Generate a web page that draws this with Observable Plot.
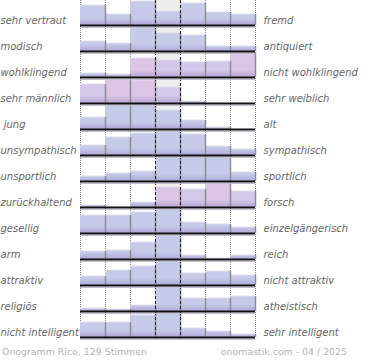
<!DOCTYPE html>
<html><head><meta charset="utf-8">
<script src="https://cdn.jsdelivr.net/npm/d3@7"></script>
<script src="https://cdn.jsdelivr.net/npm/@observablehq/plot@0.6"></script>
<style>
body{margin:0;background:#fff;width:370px;height:360px;position:relative;overflow:hidden}
svg text{white-space:pre}
#foot{position:absolute;top:346px;left:2px;width:345px;display:flex;justify-content:space-between;font:9.4px "DejaVu Sans";color:#b4b4b4;line-height:12px}
</style></head><body><div id="chart"></div>
<div id="foot"><span>Onogramm Rico, 129 Stimmen</span><span>onomastik.com - 04 / 2025</span></div>
<script>
const leftLabels = ["sehr vertraut","modisch","wohlklingend","sehr männlich"," jung","unsympathisch","unsportlich","zurückhaltend","gesellig","arm","attraktiv","religiös","nicht intelligent"];
const rightLabels = ["fremd","antiquiert","nicht wohlklingend","sehr weiblich","alt","sympathisch","sportlich","forsch","einzelgängerisch","reich","nicht attraktiv","atheistisch","sehr intelligent"];
// estimated vote shares per scale step (7 steps), relative to each row
const votes = [
  [20,11,24,14,22,13,11],
  [10, 8,25,18,16, 5, 5],
  [ 4, 3,19,17,15,16,25],
  [19,24,23,16, 2, 0, 0],
  [12,25,25,19, 9, 2, 0],
  [10,18,22,24,21, 9, 6],
  [ 5, 8,10,25,25,25, 9],
  [ 2, 0, 5,20,18,24,16],
  [18,18,21,25,11, 9, 6],
  [ 8, 9,17,24, 4, 1, 4],
  [ 9,15,19,25,12,14,10],
  [ 3, 2, 6,25,13,13,15],
  [15,15,22,25, 9, 6, 3]
];
// estimated share of female voters per bar (0 low, 1 mixed, 2 high)
const tones = [
  [0,0,0,0,0,0,0],
  [0,0,0,0,0,0,0],
  [0,0,2,1,1,1,2],
  [1,2,2,1,0,0,0],
  [0,0,0,0,0,0,0],
  [0,0,0,0,0,0,0],
  [0,0,0,0,0,0,0],
  [0,0,0,2,1,2,1],
  [0,0,0,0,0,0,0],
  [0,0,0,0,0,0,0],
  [0,0,0,0,0,0,0],
  [0,0,0,0,0,0,0],
  [0,0,0,0,0,0,0]
];

const rows = leftLabels.map((l,i)=>({row:i,left:l,right:rightLabels[i]}));
const bars = votes.flatMap((vals,r)=>vals.map((v,c)=>({row:r,col:c,v,tone:tones[r][c]}))).filter(d=>d.v>0);
const nCols = votes[0].length;
const mid = Math.floor(nCols/2);
const edges = d3.range(nCols+1);
const dotted = edges.filter(e => e!==mid && e!==mid+1);
const dashed = [mid, mid+1];

const plot = Plot.plot({
  width:370, height:342, marginLeft:80, marginRight:115, marginTop:0, marginBottom:4,
  x:{domain:[0,nCols], axis:null},
  y:{domain:[-1,25], axis:null},
  fy:{domain:d3.range(votes.length), padding:0, axis:null},
  color:{type:"ordinal", domain:[0,1,2], range:["#c6cbea","#d2c8e8","#dcc4e4"]},
  style:{fontFamily:"DejaVu Sans", fontSize:"10px", fontStyle:"italic", background:"white"},
  marks:[
    Plot.rect([mid], {x1:d=>d, x2:d=>d+1, fill:"#eeeeee"}),
    Plot.ruleX(dotted, {stroke:"#8a8a8a", strokeDasharray:"1,1"}),
    Plot.rect(bars, {fy:"row", x1:"col", x2:d=>d.col+1, y1:0, y2:"v", fill:"tone"}),
    Plot.rect(bars, {fy:"row", x1:"col", x2:d=>d.col+1, y1:0, y2:d=>Math.min(d.v,7), fill:"url(#shade)"}),
    Plot.ruleY(bars, {fy:"row", x1:"col", x2:d=>d.col+1, y:"v", stroke:"#dedee8", strokeWidth:1, dy:-0.5}),
    Plot.ruleX(bars, {fy:"row", x:d=>d.col+1, y1:0, y2:"v", stroke:"#8f8f8f", strokeWidth:1.5}),
    Plot.ruleX(dashed, {stroke:"#222", strokeDasharray:"3,2"}),
    Plot.ruleY([0], {stroke:"#c4c0d0", strokeWidth:1, dy:2}),
    Plot.ruleY([0], {stroke:"#111", strokeWidth:2}),
    Plot.text(rows, {fy:"row", x:0, y:0, text:"left", textAnchor:"start", dx:-80, dy:-5, fill:"#666"}),
    Plot.text(rows, {fy:"row", x:nCols, y:0, text:"right", textAnchor:"start", dx:8, dy:-5, fill:"#666"})
  ]
});
const svg = d3.select(plot);
const grad = svg.insert("defs", ":first-child").append("linearGradient")
  .attr("id","shade").attr("x1",0).attr("y1",0).attr("x2",0).attr("y2",1);
grad.append("stop").attr("offset","0%").attr("stop-color","#9a86c6").attr("stop-opacity",0);
grad.append("stop").attr("offset","100%").attr("stop-color","#9a86c6").attr("stop-opacity",0.5);
document.getElementById("chart").appendChild(plot);
</script>
</body></html>
